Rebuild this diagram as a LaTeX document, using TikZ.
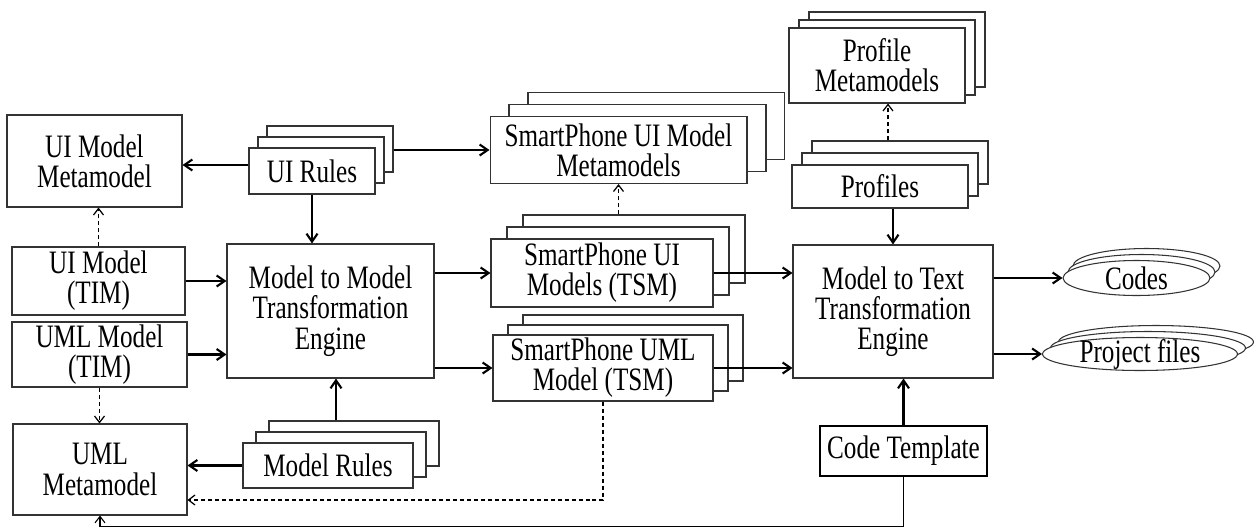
\documentclass[tikz,border=0pt]{standalone}
\usepackage{fontspec}
\setmainfont{Liberation Serif}[FakeStretch=0.77]
\usetikzlibrary{arrows.meta,shapes.geometric,shadows}

\tikzset{
  box/.style={draw=black!80, fill=white, line width=0.6pt, align=center,
    inner sep=0pt, font=\fontsize{18.6}{17.2}\selectfont},
  stackbox/.style 2 args={box, double copy shadow={shadow xshift=#1, shadow yshift=#2}},
  stackell/.style 2 args={stackbox={#1}{#2}, ellipse, inner ysep=-0.1cm},
  flow/.style={-{Straight Barb[length=1.6mm,width=2.2mm]}, line width=1.2pt},
  dep/.style={-{Straight Barb[length=1.3mm,width=2mm]}, line width=0.7pt,
    dash pattern=on 0.8mm off 0.6mm},
}

\begin{document}
\begin{tikzpicture}[x=0.02cm,y=-0.02cm]
\useasboundingbox (0,0) rectangle (1259,528);
% independent models and metamodels
\node[box, minimum width=3.5cm, minimum height=1.84cm] (uimm) at (94.5,161) {UI Model\\Metamodel};
\node[box, minimum width=3.46cm, minimum height=1.36cm] (uim) at (98.5,281) {UI Model\\(TIM)};
\node[box, minimum width=3.5cm, minimum height=1.3cm] (umlm) at (99.5,354.5) {UML Model\\(TIM)};
\node[box, minimum width=3.48cm, minimum height=1.82cm] (umlmm) at (100,469.5) {UML\\Metamodel};
% model to model step
\node[box, minimum width=4.14cm, minimum height=2.68cm] (mtm) at (330.5,311) {Model to Model\\Transformation\\Engine};
\node[stackbox={0.18cm}{0.22cm}, minimum width=2.52cm, minimum height=0.92cm] (uirules) at (312,171) {UI Rules};
\node[stackbox={0.26cm}{0.22cm}, minimum width=3.4cm, minimum height=0.9cm] (mrules) at (328,465.5) {Model Rules};
% smartphone specific models
\node[stackbox={0.38cm}{0.24cm}, minimum width=5.14cm, minimum height=1.34cm] (spuimm) at (618.5,150) {SmartPhone UI Model\\Metamodels};
\node[stackbox={0.32cm}{0.24cm}, minimum width=4.44cm, minimum height=1.36cm] (spui) at (602,273) {SmartPhone UI\\Models (TSM)};
\node[stackbox={0.3cm}{0.2cm}, minimum width=4.4cm, minimum height=1.32cm] (spuml) at (603,368) {SmartPhone UML\\Model (TSM)};
% model to text step
\node[stackbox={0.2cm}{0.16cm}, minimum width=3.52cm, minimum height=1.5cm] (profmm) at (877,65.5) {Profile\\Metamodels};
\node[stackbox={0.2cm}{0.24cm}, minimum width=3.52cm, minimum height=0.86cm] (profiles) at (880,186.5) {Profiles};
\node[box, minimum width=4cm, minimum height=2.66cm] (mtt) at (893,311.5) {Model to Text\\Transformation\\Engine};
\node[box, draw=black, line width=1pt, minimum width=3.34cm, minimum height=1cm] (codetpl) at (903.5,451) {Code Template};
\node[stackell={0.1cm}{0.12cm}, minimum width=2.94cm, minimum height=0.7cm] (codes) at (1136.5,278) {Codes};
\node[stackell={0.16cm}{0.12cm}, minimum width=3.9cm, minimum height=0.66cm] (projfiles) at (1140,354) {Project files};

% connectors on the left
\draw[flow] ([yshift=0.12cm]uirules.west) -- ([yshift=0.12cm]uirules.west -| uimm.east);
\draw[flow] ([xshift=0.36cm]uirules.east |- spuimm.west) -- (spuimm.west);
\draw[flow] (uirules.south) -- (uirules.south |- mtm.north);
\draw[flow] (uim.east) -- (uim.east -| mtm.west);
\draw[flow] (umlm.east) -- (umlm.east -| mtm.west);
\draw[dep] (uim.north) -- (uim.north |- uimm.south);
\draw[dep] (umlm.south) -- (umlm.south |- umlmm.north);
\coordinate (mrtop) at ([xshift=0.16cm,yshift=0.44cm]mrules.north);
\draw[flow] (mrtop) -- (mrtop |- mtm.south);
\draw[flow] (mrules.west) -- (mrules.west -| umlmm.east);
% connectors in the middle
\draw[flow] (mtm.east |- spui.west) -- (spui.west);
\draw[flow] (mtm.east |- spuml.west) -- (spuml.west);
\coordinate (sptop) at ([yshift=0.48cm]spui.north);
\draw[dep] (sptop -| spuimm.south) -- (spuimm.south);
\draw[dep] (spuml.south) |- ([yshift=-0.61cm]umlmm.east);
\draw[flow] (spui.east) -- (spui.east -| mtt.west);
\draw[flow] (spuml.east) -- (spuml.east -| mtt.west);
% connectors on the right
\coordinate (pftop) at ([xshift=0.16cm,yshift=0.48cm]profiles.north);
\draw[dep] (pftop) -- (pftop |- profmm.south);
\draw[flow] (profiles.south -| mtt.north) -- (mtt.north);
\draw[flow] (codetpl.north) -- (codetpl.north |- mtt.south);
\draw[flow] (codes.west -| mtt.east) -- (codes.west);
\draw[flow] (projfiles.west -| mtt.east) -- (projfiles.west);
\draw[-{Straight Barb[length=1.3mm,width=2mm]}, line width=0.6pt]
  (codetpl.south) |- ([yshift=-0.22cm]umlmm.south) -- (umlmm.south);
\end{tikzpicture}
\end{document}
